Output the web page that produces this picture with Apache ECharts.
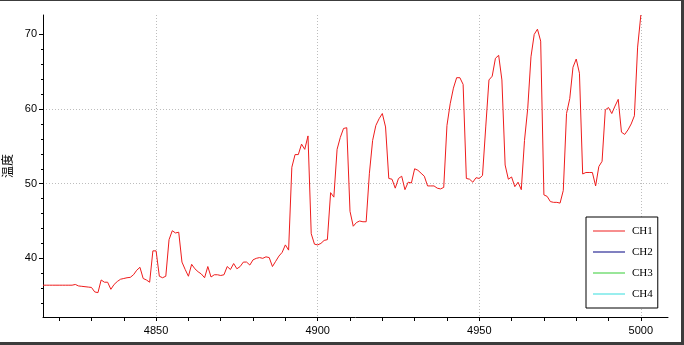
<!DOCTYPE html>
<html>
<head>
<meta charset="utf-8">
<script src="https://cdn.jsdelivr.net/npm/echarts@6/dist/echarts.min.js"></script>
<style>
  html, body { margin: 0; padding: 0; background: #fff; }
  #wrap { position: relative; width: 684px; height: 345px; overflow: hidden; }
  #chart { position: absolute; left: 0; top: 0; width: 684px; height: 345px; }
  #frame { position: absolute; left: 0; top: 0; width: 681px; height: 341px;
           border-top: 1px solid #3c3c3c; border-right: 3px solid #3c3c3c; border-bottom: 3px solid #3c3c3c;
           pointer-events: none; }
</style>
</head>
<body>
<div id="wrap">
  <div id="chart"></div>
  <div id="frame"></div>
</div>
<script>
// ---- data ----
const xStart = 4815;
const ch1 = [
  36.4, 36.4, 36.4, 36.4, 36.4, 36.4, 36.4, 36.4, 36.4, 36.4,
  36.5, 36.3, 36.25, 36.2, 36.15, 36.1, 35.5, 35.4, 37.1, 36.8,
  36.8, 35.85, 36.5, 36.9, 37.2, 37.3, 37.4, 37.45, 37.8, 38.4,
  38.8, 37.3, 37.1, 36.8, 41.0, 41.0, 37.6, 37.4, 37.6, 42.5,
  43.7, 43.4, 43.5, 39.5, 38.5, 37.6, 39.2, 38.6, 38.2, 37.9,
  37.4, 38.9, 37.5, 37.8, 37.8, 37.7, 37.8, 38.9, 38.5, 39.3,
  38.6, 38.9, 39.5, 39.5, 39.1, 39.8, 40.0, 40.1, 40.0, 40.2,
  40.1, 38.9, 39.6, 40.3, 40.8, 41.8, 41.1, 52.2, 53.9, 53.9,
  55.3, 54.6, 56.4, 43.3, 41.9, 41.8, 42.0, 42.4, 42.5, 48.8,
  48.2, 54.6, 56.2, 57.4, 57.5, 46.3, 44.3, 44.8, 45.0, 44.9,
  44.9, 51.4, 55.8, 57.8, 58.7, 59.4, 57.6, 50.7, 50.6, 49.4,
  50.7, 51.0, 49.2, 50.2, 50.1, 52.0, 51.8, 51.4, 51.0, 49.7,
  49.7, 49.7, 49.4, 49.3, 49.5, 57.8, 60.7, 62.8, 64.2, 64.2,
  63.3, 50.7, 50.6, 50.2, 50.8, 50.7, 51.1, 57.6, 63.9, 64.4,
  66.8, 67.2, 63.9, 52.5, 50.6, 50.9, 49.6, 50.2, 49.2, 55.8,
  60.1, 67.0, 70.0, 70.7, 69.1, 48.5, 48.3, 47.6, 47.5, 47.5,
  47.4, 49.1, 59.4, 61.4, 65.6, 66.7, 64.8, 51.3, 51.5, 51.5,
  51.5, 49.7, 52.3, 53.0, 59.9, 60.2, 59.4, 60.4, 61.3, 56.9,
  56.6, 57.2, 58.0, 59.1, 68.3, 72.6
];
const ch2 = [];
const ch3 = [];
const ch4 = [];
const seriesNames = ['CH1', 'CH2', 'CH3', 'CH4'];
const xLabelValues = [4850, 4900, 4950, 5000];
const xTickValues = [4820, 4830, 4840, 4850, 4860, 4870, 4880, 4890, 4900, 4910, 4920, 4930, 4940, 4950, 4960, 4970, 4980, 4990, 5000];
const yLabelValues = [40, 50, 60, 70];
const yMinorTickValues = [34, 36, 38, 42, 44, 46, 48, 52, 54, 56, 58, 62, 64, 66, 68];
const yName = '温度';
const xRange = [4815, 5008.4];
const yRange = [32.14, 72.6];

// ---- chart ----
const ch1Data = ch1.map((v, i) => [xStart + i, v]);
const chart = echarts.init(document.getElementById('chart'), null, { renderer: 'canvas' });
const labelFont = { fontFamily: '"Liberation Sans Narrow", "Liberation Sans", Arial, sans-serif', fontSize: 11, color: '#000' };
const gridLine = { show: true, showMinLine: false, showMaxLine: false, lineStyle: { color: '#bdbdbd', width: 1, type: [1, 2] } };
const plain = v => String(v);

chart.setOption({
  animation: false,
  backgroundColor: '#fff',
  grid: { left: 43, top: 15, right: 16, bottom: 28, containLabel: false, outerBoundsMode: 'none' },
  legend: {
    orient: 'vertical',
    left: 586, top: 217,
    data: seriesNames,
    icon: 'rect',
    itemWidth: 32, itemHeight: 1,
    itemGap: 7,
    padding: [7, 5, 7, 7],
    borderColor: '#000', borderWidth: 1,
    backgroundColor: '#fff',
    textStyle: { fontFamily: '"Liberation Serif", "DejaVu Serif", serif', fontSize: 11, lineHeight: 14, color: '#000', padding: [0, 0, 0, 2] }
  },
  xAxis: [{
    type: 'value',
    min: xRange[0], max: xRange[1],
    splitNumber: 4,
    axisLine: { show: true, onZero: false, lineStyle: { color: '#000', width: 1 } },
    axisTick: { show: false },
    axisLabel: Object.assign({ customValues: xLabelValues, margin: 8, formatter: plain }, labelFont),
    splitLine: gridLine
  }, {
    type: 'value',
    position: 'bottom',
    min: xRange[0], max: xRange[1],
    axisLine: { show: false, onZero: false },
    axisTick: { show: true, customValues: xTickValues, length: 4, lineStyle: { color: '#000' } },
    axisLabel: { show: false },
    splitLine: { show: false }
  }],
  yAxis: [{
    type: 'value',
    min: yRange[0], max: yRange[1],
    splitNumber: 4,
    name: yName,
    nameLocation: 'middle',
    nameRotate: 90,
    nameGap: 29,
    nameTextStyle: { fontFamily: '"Noto Sans CJK SC", sans-serif', fontSize: 12, color: '#000' },
    axisLine: { show: true, onZero: false, lineStyle: { color: '#000', width: 1 } },
    axisTick: { show: true, customValues: yLabelValues, length: 4, lineStyle: { color: '#000' } },
    axisLabel: Object.assign({ customValues: yLabelValues, margin: 6, formatter: plain }, labelFont),
    splitLine: gridLine
  }, {
    type: 'value',
    position: 'left',
    min: yRange[0], max: yRange[1],
    axisLine: { show: false, onZero: false },
    axisTick: { show: true, customValues: yMinorTickValues, length: 2, lineStyle: { color: '#000' } },
    axisLabel: { show: false },
    splitLine: { show: false }
  }],
  series: [
    { name: 'CH1', type: 'line', data: ch1Data, symbol: 'none', color: '#ee1c1c', lineStyle: { width: 1, color: '#ee1c1c' } },
    { name: 'CH2', type: 'line', data: ch2, symbol: 'none', color: '#000080', lineStyle: { width: 1 } },
    { name: 'CH3', type: 'line', data: ch3, symbol: 'none', color: '#33cc33', lineStyle: { width: 1 } },
    { name: 'CH4', type: 'line', data: ch4, symbol: 'none', color: '#33dddd', lineStyle: { width: 1 } }
  ]
});
</script>
</body>
</html>
